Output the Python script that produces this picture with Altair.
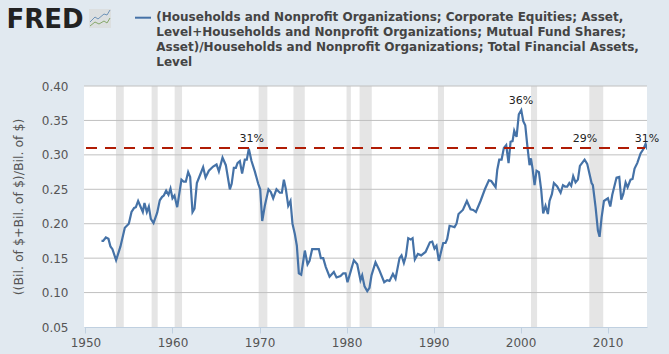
import altair as alt
import pandas as pd

years = [1951.84,1952.03,1952.34,1952.64,1952.87,1953.10,1953.52,1954.02,1954.52,1954.98,1955.29,1955.59,1955.79,1956.05,1956.32,1956.59,1956.78,1957.05,1957.28,1957.51,1957.82,1958.24,1958.54,1958.81,1959.00,1959.27,1959.54,1959.77,1960.00,1960.23,1960.54,1961.03,1961.30,1961.53,1961.80,1962.03,1962.30,1962.53,1962.80,1963.52,1963.80,1964.18,1964.67,1965.06,1965.33,1965.75,1966.13,1966.59,1966.80,1967.05,1967.28,1967.47,1967.74,1968.00,1968.31,1968.54,1968.77,1969.08,1969.46,1969.85,1970.08,1970.31,1970.61,1971.03,1971.30,1971.57,1971.95,1972.34,1972.57,1972.80,1973.03,1973.30,1973.56,1973.79,1974.06,1974.29,1974.52,1974.79,1975.21,1975.52,1975.75,1976.05,1976.36,1976.82,1977.05,1977.32,1977.62,1978.05,1978.54,1978.85,1979.31,1979.62,1979.89,1980.11,1980.46,1980.84,1981.23,1981.60,1981.80,1982.07,1982.38,1982.64,1982.87,1983.33,1983.72,1984.33,1984.67,1984.94,1985.33,1985.63,1986.09,1986.32,1986.59,1986.82,1987.09,1987.36,1987.59,1987.85,1988.20,1988.58,1989.08,1989.58,1989.85,1990.11,1990.34,1990.61,1991.11,1991.38,1991.57,1991.84,1992.15,1992.41,1992.64,1992.87,1993.37,1993.83,1994.25,1994.56,1994.87,1995.40,1995.90,1996.36,1996.63,1997.13,1997.32,1997.55,1997.82,1998.08,1998.35,1998.62,1998.85,1999.08,1999.27,1999.54,1999.80,2000.08,2000.31,2000.54,2000.77,2001.03,2001.19,2001.38,2001.61,2001.84,2002.11,2002.38,2002.60,2002.87,2003.14,2003.33,2003.60,2003.83,2004.21,2004.60,2004.87,2005.10,2005.36,2005.60,2005.82,2006.05,2006.32,2006.59,2006.82,2007.36,2007.66,2008.16,2008.31,2008.62,2008.89,2009.08,2009.31,2009.58,2010.04,2010.31,2010.54,2011.03,2011.34,2011.57,2011.80,2012.07,2012.30,2012.64,2012.87,2013.10,2013.41,2013.79,2014.10,2014.37,2014.56]
values = [.175,.175,.180,.178,.167,.163,.147,.167,.194,.200,.217,.223,.224,.233,.225,.217,.230,.217,.225,.207,.201,.216,.234,.239,.241,.248,.242,.251,.237,.241,.224,.264,.261,.261,.275,.268,.217,.222,.259,.282,.267,.277,.283,.286,.276,.296,.285,.250,.258,.281,.281,.288,.291,.273,.293,.293,.309,.291,.276,.258,.250,.204,.226,.250,.246,.237,.250,.245,.245,.264,.250,.226,.233,.200,.185,.168,.128,.126,.161,.141,.146,.163,.163,.163,.150,.150,.137,.123,.130,.122,.124,.128,.128,.115,.130,.147,.141,.118,.125,.109,.102,.107,.125,.144,.134,.115,.118,.117,.127,.120,.150,.154,.143,.153,.179,.177,.179,.148,.156,.154,.159,.173,.174,.164,.168,.146,.172,.172,.178,.197,.196,.195,.200,.214,.220,.233,.221,.220,.217,.233,.250,.263,.262,.253,.278,.293,.293,.310,.314,.288,.319,.320,.335,.326,.359,.365,.349,.343,.314,.285,.295,.280,.256,.277,.275,.248,.215,.226,.214,.233,.243,.259,.254,.245,.256,.254,.254,.259,.255,.269,.260,.264,.284,.293,.287,.259,.256,.224,.190,.181,.209,.233,.237,.225,.242,.267,.268,.235,.243,.260,.253,.264,.265,.280,.288,.302,.308,.316,.308]

rec_start = [1953.5,1957.6,1960.25,1969.9,1973.9,1980.0,1981.5,1990.5,2001.2,2007.9]
rec_end = [1954.4,1958.3,1961.1,1970.9,1975.2,1980.5,1982.9,1991.2,2001.9,2009.5]

grid_values = [0.10,0.15,0.20,0.25,0.30,0.35,0.40]
x_ticks = [1950,1960,1970,1980,1990,2000,2010]
y_ticks = [0.05,0.10,0.15,0.20,0.25,0.30,0.35,0.40]

label_x = [1969.1,2000.04,2007.4,2014.53]
label_y = [0.323,0.378,0.323,0.323]
label_t = ["31%","36%","29%","31%"]

ref_x = [1950.06]
ref_x2 = [2014.3]
ref_y = [0.31]

title_lines = [
    "(Households and Nonprofit Organizations; Corporate Equities; Asset,",
    "Level+Households and Nonprofit Organizations; Mutual Fund Shares;",
    "Asset)/Households and Nonprofit Organizations; Total Financial Assets,",
    "Level",
]

FONT = "DejaVu Sans"
xs = alt.Scale(domain=[1949.83, 2014.53], nice=False, zero=False)
ys = alt.Scale(domain=[0.05, 0.40], nice=False, zero=False)

bands = alt.Chart(pd.DataFrame({"s": rec_start, "e": rec_end})).mark_rect(color="#e5e5e5").encode(
    x=alt.X("s:Q", scale=xs,
            axis=alt.Axis(values=x_ticks, format="d", title=None, grid=False, tickCount=10,
                          domainColor="#C0D0E0", tickColor="#C0D0E0", tickSize=6,
                          labelFont=FONT, labelFontSize=12, labelColor="#555555", labelPadding=4,
                          labelFlush=False, labelOverlap=False)),
    x2="e:Q",
)
grid = alt.Chart(pd.DataFrame({"g": grid_values})).mark_rule(color="#c0c0c0", strokeWidth=1).encode(
    y=alt.Y("g:Q", scale=ys,
            axis=alt.Axis(values=y_ticks, format=".2f", grid=False, domain=False, ticks=False, tickCount=10,
                          title="((Bil. of $+Bil. of $)/Bil. of $)", titleFont=FONT, titleFontSize=12.5,
                          titleFontWeight="normal", titleColor="#555555", titlePadding=16,
                          labelFont=FONT, labelFontSize=12, labelColor="#555555", labelPadding=16,
                          labelOverlap=False, labelFlush=False)),
)
line = alt.Chart(pd.DataFrame({"yr": years, "v": values})).mark_line(color="#4572a7", strokeWidth=2.2, clip=True).encode(
    x=alt.X("yr:Q", scale=xs), y=alt.Y("v:Q", scale=ys)
)
ref = alt.Chart(pd.DataFrame({"a": ref_x, "b": ref_x2, "c": ref_y})).mark_rule(
    color="#b01c05", strokeWidth=2, strokeDash=[11, 8]
).encode(x=alt.X("a:Q", scale=xs), x2="b:Q", y=alt.Y("c:Q", scale=ys))
labels = alt.Chart(pd.DataFrame({"x": label_x, "y": label_y, "t": label_t})).mark_text(
    font=FONT, fontSize=11, color="#222222", baseline="middle", align="center"
).encode(x=alt.X("x:Q", scale=xs), y=alt.Y("y:Q", scale=ys), text="t:N")

# legend key and logo, placed relative to the plot area
dummy = pd.DataFrame({"t": ["FRED"]})
def seg(x1, y1, x2, y2, color, w=1):
    return alt.Chart(dummy).mark_rule(color=color, strokeWidth=w).encode(
        x=alt.value(x1), x2=alt.value(x2), y=alt.value(y1), y2=alt.value(y2))

key = seg(51, -68.3, 67, -68.3, "#4572a7", 2)
legend_text = alt.Chart(pd.DataFrame({"t": ["\n".join(title_lines)]})).mark_text(
    font=FONT, fontSize=12, fontWeight="bold", color="#444444", align="left", baseline="middle",
    lineBreak="\n", lineHeight=15,
).encode(x=alt.value(72.3), y=alt.value(-69.3), text="t:N")
logo = alt.Chart(dummy).mark_text(font=FONT, fontWeight="bold", fontSize=26, color="#222222",
                                  align="left", baseline="alphabetic").encode(
    x=alt.value(-77.5), y=alt.value(-58), text="t:N")
icon_bg = alt.Chart(dummy).mark_rect(color="#dcdfe0").encode(
    x=alt.value(5), x2=alt.value(27), y=alt.value(-77), y2=alt.value(-58))
blue_pts = [(6,-64),(11,-69),(14,-67),(20,-72),(23,-71),(26,-76)]
green_pts = [(6,-60),(11,-64),(15,-62),(20,-65),(23,-63),(26,-68)]
icon = []
for pts, c in ((blue_pts, "#6f93b8"), (green_pts, "#86a86a")):
    for p, q in zip(pts, pts[1:]):
        icon.append(seg(p[0], p[1], q[0], q[1], c, 1))

chart = alt.layer(bands, grid, line, ref, labels, key, legend_text, icon_bg, logo, *icon).properties(
    width=563, height=241,
    padding={"left": 84, "top": 86, "right": 22, "bottom": 27},
    autosize=alt.AutoSizeParams(type="none"),
    background="#e1e9f0",
).configure_view(fill="white", strokeWidth=0)

chart.save("out.html", embed_options={
    "renderer": "svg", "actions": False,
    "defaultStyle": "html,body{margin:0;background:#e1e9f0;overflow:hidden}",
})
